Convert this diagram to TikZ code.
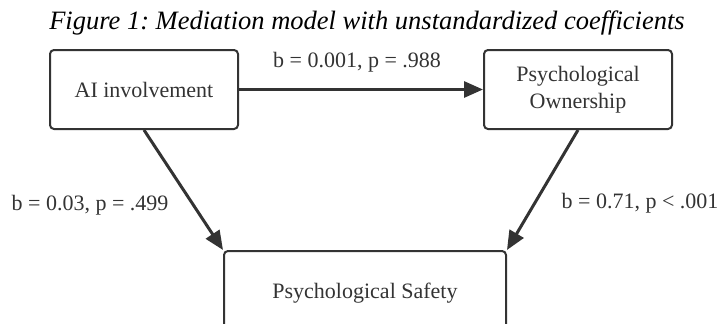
\documentclass[tikz,border=0pt]{standalone}
\usepackage{fontspec}
\setmainfont{Liberation Serif}
\usetikzlibrary{arrows.meta}
\definecolor{ink}{HTML}{333333}
\frenchspacing

\begin{document}
\begin{tikzpicture}[
    x=1pt, y=-1pt,
    box/.style={
        rectangle,
        rounded corners=4pt,
        draw=ink,
        line width=2pt,
        minimum width=188pt,
        minimum height=79pt,
        inner sep=0pt,
        align=center,
        text=ink,
        font=\fontsize{22}{27}\selectfont
    },
    coef/.style={
        text=ink,
        font=\fontsize{22}{27}\selectfont
    },
    arrow/.style={-{Triangle[length=19pt,width=16pt]}, draw=ink, line width=3pt}
]

\useasboundingbox (0,0) rectangle (718,324);

\node[anchor=base, font=\fontsize{26.5}{30}\selectfont\itshape] (title) at (367,30)
    {Figure 1: Mediation model with unstandardized coefficients};

\node[box] (ai) at (144,89.5) {AI involvement};

\node[box] (owner) at (578,89.5) {Psychological\\Ownership};

\node[box, minimum width=282pt, minimum height=84pt] (safety) at (365,293) {Psychological Safety};

\draw[arrow] (ai.east) -- (owner.west);
\draw[arrow] (ai.south) -- (safety.north west);
\draw[arrow] (owner.south) -- (safety.north east);

\node[coef] (a) at (357,62) {b = 0.001, p = .988};
\node[coef] (c) at (90,205) {b = 0.03, p = .499};
\node[coef] (b) at (640,203) {b = 0.71, p < .001};

\end{tikzpicture}
\end{document}
